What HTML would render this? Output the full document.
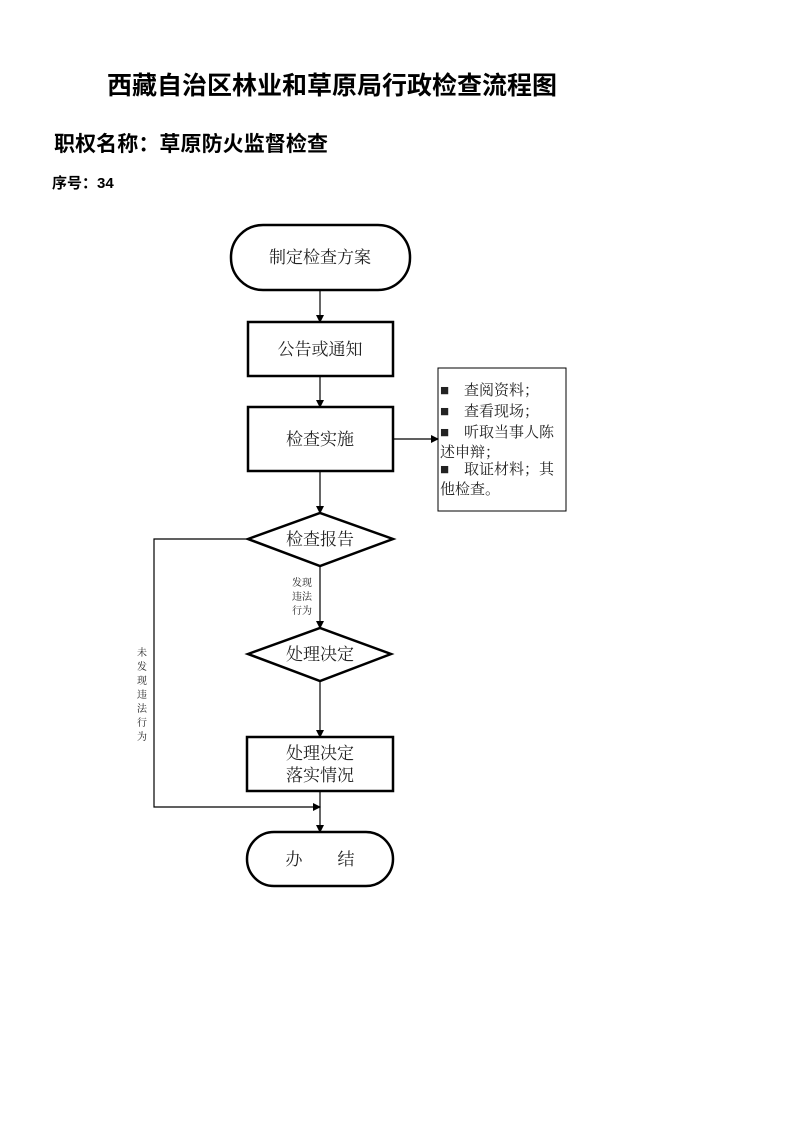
<!DOCTYPE html>
<html><head><meta charset="utf-8"><style>
body{margin:0;background:#fff}
svg text{font-family:"Liberation Serif","Noto Serif CJK SC",serif;fill:#222}
.b{font-family:"Liberation Sans","Noto Sans CJK SC",sans-serif;font-weight:bold;fill:#000}
</style></head><body>
<svg width="793" height="1122" viewBox="0 0 793 1122" xmlns="http://www.w3.org/2000/svg">
<defs><marker id="a" markerWidth="8" markerHeight="8" refX="7" refY="4" orient="auto" markerUnits="userSpaceOnUse"><path d="M0,0 L8,4 L0,8 z" fill="#000"/></marker></defs>
<text class="b" x="107" y="94" font-size="25" textLength="450">西藏自治区林业和草原局行政检查流程图</text>
<text class="b" x="54" y="151" font-size="21" textLength="274">职权名称：草原防火监督检查</text>
<text class="b" x="52" y="188" font-size="15">序号：34</text>
<g fill="none" stroke="#000" stroke-width="2.5">
<rect x="231" y="225" width="179" height="65" rx="32"/>
<rect x="248" y="322" width="145" height="54"/>
<rect x="248" y="407" width="145" height="64"/>
<path d="M248,539 L320,513 L393,539 L320,566 Z"/>
<path d="M248,654 L320,628 L391,654 L320,681 Z"/>
<rect x="247" y="737" width="146" height="54"/>
<rect x="247" y="832" width="146" height="54" rx="27"/>
</g>
<rect x="438" y="368" width="128" height="143" fill="none" stroke="#000" stroke-width="1"/>
<g stroke="#000" stroke-width="1.2" fill="none" marker-end="url(#a)">
<line x1="320" y1="290" x2="320" y2="322"/>
<line x1="320" y1="376" x2="320" y2="407"/>
<line x1="393" y1="439" x2="438" y2="439"/>
<line x1="320" y1="471" x2="320" y2="513"/>
<line x1="320" y1="566" x2="320" y2="628"/>
<line x1="320" y1="681" x2="320" y2="737"/>
<line x1="320" y1="791" x2="320" y2="832"/>
<path d="M248,539 L154,539 L154,807 L320,807"/>
</g>
<g font-size="17" text-anchor="middle">
<text x="320" y="263">制定检查方案</text>
<text x="320" y="355">公告或通知</text>
<text x="320" y="445">检查实施</text>
<text x="320" y="545">检查报告</text>
<text x="320" y="660">处理决定</text>
<text x="320" y="759">处理决定</text>
<text x="320" y="781">落实情况</text>
<text x="294" y="865">办</text><text x="346" y="865">结</text>
</g>
<g font-size="15">
<text x="440" y="395">■　查阅资料；</text>
<text x="440" y="416">■　查看现场；</text>
<text x="440" y="437">■　听取当事人陈</text>
<text x="440" y="457">述申辩；</text>
<text x="440" y="474">■　取证材料；其</text>
<text x="440" y="494">他检查。</text>
</g>
<g font-size="10" text-anchor="middle">
<text x="302" y="586">发现</text><text x="302" y="600">违法</text><text x="302" y="614">行为</text>
<text x="142" y="656">未</text><text x="142" y="670">发</text><text x="142" y="684">现</text><text x="142" y="698">违</text><text x="142" y="712">法</text><text x="142" y="726">行</text><text x="142" y="740">为</text>
</g>
</svg>
</body></html>
